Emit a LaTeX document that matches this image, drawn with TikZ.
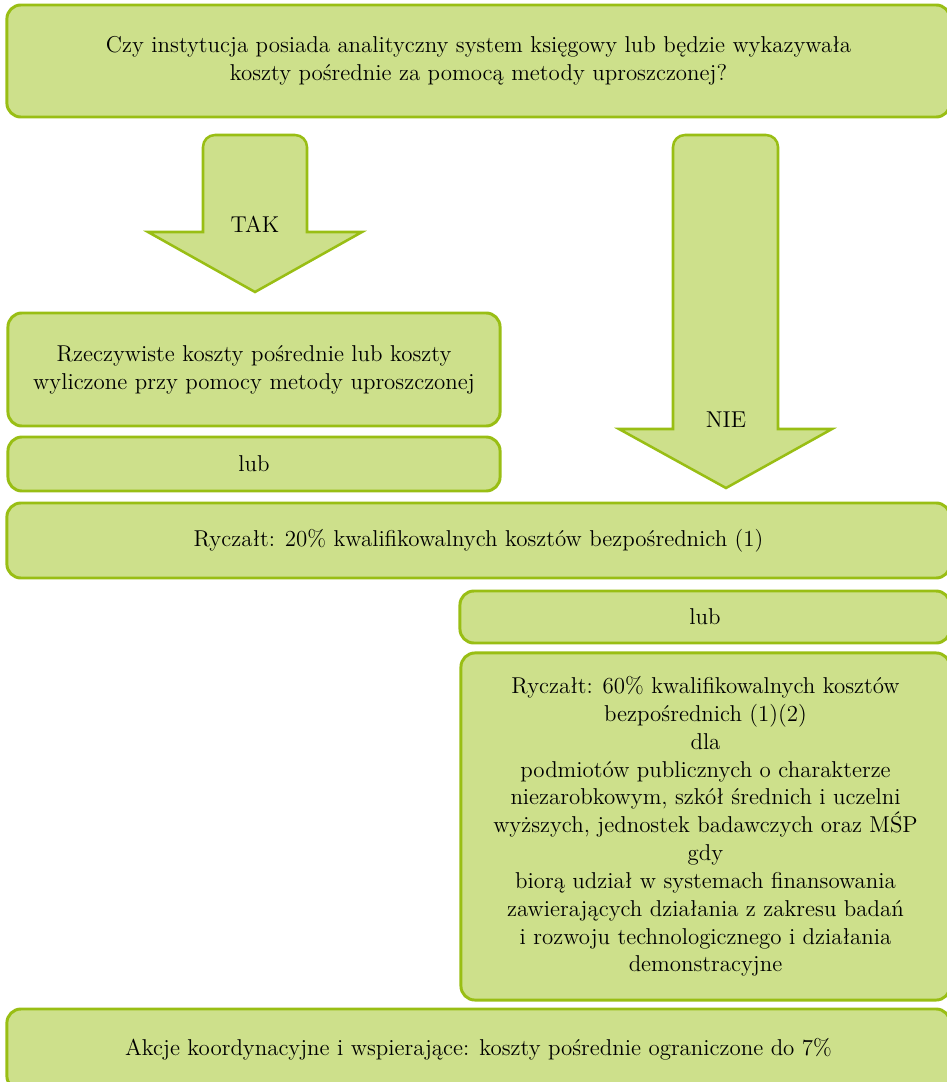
\documentclass[tikz,border=0pt]{standalone}
\usepackage{fontspec}
\setmainfont{lmroman12-regular.otf}
\usepackage{tikz}
\usetikzlibrary{positioning}
\definecolor{boxfill}{RGB}{205,224,139}
\definecolor{boxline}{RGB}{153,190,20}

\begin{document}
\begin{tikzpicture}[x=0.025cm,y=-0.025cm,
  box/.style={draw=boxline,fill=boxfill,line width=2.1pt,rounded corners=0.35cm,
    align=center,inner sep=0pt,font=\fontsize{16.3}{19.8}\selectfont},
  arrowshape/.style={draw=boxline,fill=boxfill,line width=1.8pt,line join=miter},
  lbl/.style={font=\fontsize{16.3}{19.8}\selectfont}]
\useasboundingbox (0,0) rectangle (946,1082);
% question
\node[box,minimum width=23.575cm,minimum height=2.8cm] (pytanie) at (478.5,61)
  {Czy instytucja posiada analityczny system księgowy lub będzie wykazywała\\
   koszty pośrednie za pomocą metody uproszczonej?};
% arrow TAK
\draw[arrowshape] (148,232) -- (203,232) -- (203,147) to[out=90,in=180] (215,135)
  -- (295,135) to[out=0,in=90] (307,147) -- (307,232) -- (362,232) -- (255,292) -- cycle;
\node[lbl] (tak) at (255,224) {TAK};
% arrow NIE
\draw[arrowshape] (619,429) -- (673,429) -- (673,147) to[out=90,in=180] (685,135)
  -- (766,135) to[out=0,in=90] (778,147) -- (778,429) -- (832,429) -- (726,488) -- cycle;
\node[lbl] (nie) at (726,420) {NIE};
% left column
\node[box,minimum width=12.3cm,minimum height=2.825cm] (rzecz) at (254,369.5)
  {Rzeczywiste koszty pośrednie lub koszty\\ wyliczone przy pomocy metody uproszczonej};
\node[box,minimum width=12.3cm,minimum height=1.35cm] (lubA) at (254,464) {lub};
% full width
\node[box,minimum width=23.575cm,minimum height=1.875cm] (rycz20) at (478.5,540.5)
  {Ryczałt: 20\% kwalifikowalnych kosztów bezpośrednich (1)};
% right column
\node[box,minimum width=12.25cm,minimum height=1.3cm] (lubB) at (705,617) {lub};
\node[box,minimum width=12.225cm,minimum height=8.675cm] (rycz60) at (705.5,826.5)
  {Ryczałt: 60\% kwalifikowalnych kosztów\\ bezpośrednich (1)(2)\\ dla\\
   podmiotów publicznych o charakterze\\ niezarobkowym, szkół średnich i uczelni\\
   wyższych, jednostek badawczych oraz MŚP\\ gdy\\
   biorą udział w systemach finansowania\\ zawierających działania z zakresu badań\\
   i rozwoju technologicznego i działania\\ demonstracyjne};
% bottom
\node[box,minimum width=23.575cm,minimum height=2.025cm] (akcje) at (478.5,1049.5)
  {\raisebox{0.15cm}{Akcje koordynacyjne i wspierające: koszty pośrednie ograniczone do 7\%}};
\end{tikzpicture}
\end{document}
